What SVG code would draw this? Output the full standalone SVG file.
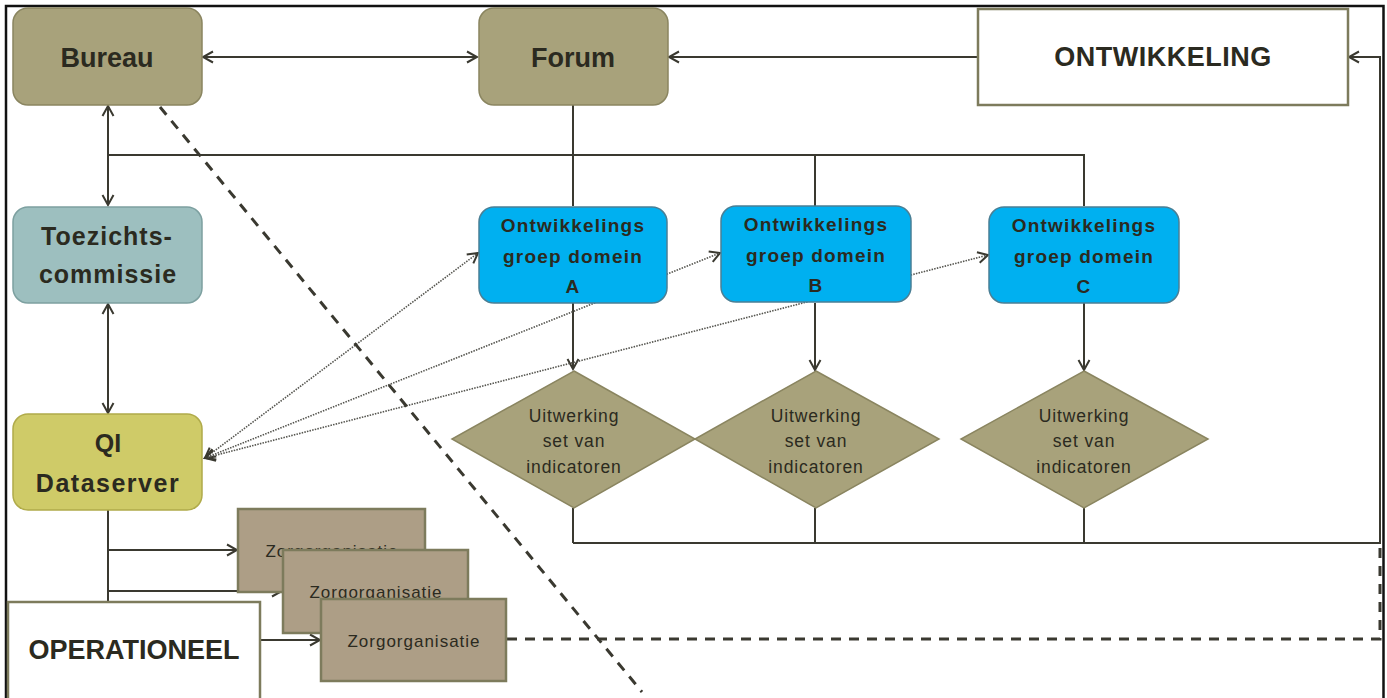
<svg xmlns="http://www.w3.org/2000/svg" width="1387" height="698" viewBox="0 0 1387 698">
<defs>
<style>
.t{font-family:"Liberation Sans",Arial,sans-serif;fill:#2b2a20;text-anchor:middle}
.b{font-weight:bold}
.olive{fill:#a8a27b;stroke:#8a8560;stroke-width:1.5}
.blue{fill:#00b0f0;stroke:#4a7f95;stroke-width:1.5}
.white{fill:#ffffff;stroke:#7d7b5c;stroke-width:2.5}
.zorg{fill:#ad9e86;stroke:#7d7b5c;stroke-width:2.5}
.c{fill:none;stroke:#3a3930;stroke-width:2}
.dot{fill:none;stroke:#55554f;stroke-width:1.6;stroke-dasharray:1.5 1.2}
.dash{fill:none;stroke:#3a3930;stroke-width:3;stroke-dasharray:10 8}
</style>
<marker id="ah" markerUnits="userSpaceOnUse" markerWidth="14" markerHeight="14" viewBox="0 0 14 14" refX="12" refY="7" orient="auto-start-reverse">
<path d="M2,1.5 L12,7 L2,12.5" fill="none" stroke="#3a3930" stroke-width="2"/>
</marker>
</defs>
<rect x="0" y="0" width="1387" height="698" fill="#ffffff"/>
<path d="M6,698 V6 H1383.5 V698" fill="none" stroke="#111" stroke-width="2.5"/>

<g id="connectors">
<line class="c" x1="203" y1="57" x2="477" y2="57" marker-start="url(#ah)" marker-end="url(#ah)"/>
<line class="c" x1="978" y1="57" x2="669" y2="57" marker-end="url(#ah)"/>
<path class="c" d="M573,508 V543 M815,508 V543 M1084,508 V543 M573,543 H1380 V57 H1349" marker-end="url(#ah)"/>
<line class="c" x1="108" y1="106" x2="108" y2="205" marker-start="url(#ah)" marker-end="url(#ah)"/>
<path class="c" d="M108,155 H1084 V206 M815,155 V206 M573,105 V206"/>
<line class="c" x1="573" y1="303" x2="573" y2="369" marker-end="url(#ah)"/>
<line class="c" x1="815" y1="303" x2="815" y2="370" marker-end="url(#ah)"/>
<line class="c" x1="1084" y1="303" x2="1084" y2="370" marker-end="url(#ah)"/>
<line class="c" x1="108" y1="304" x2="108" y2="413" marker-start="url(#ah)" marker-end="url(#ah)"/>
<path class="c" d="M108,510 V602"/>
<line class="c" x1="108" y1="550" x2="237" y2="550" marker-end="url(#ah)"/>
<line class="c" x1="108" y1="591" x2="282" y2="591" marker-end="url(#ah)"/>
<line class="c" x1="261" y1="640" x2="320" y2="640" marker-end="url(#ah)"/>
<line class="dot" x1="205" y1="458" x2="478" y2="253" marker-start="url(#ah)" marker-end="url(#ah)"/>
<line class="dot" x1="205" y1="458" x2="720" y2="253" marker-start="url(#ah)" marker-end="url(#ah)"/>
<line class="dot" x1="205" y1="458" x2="988" y2="255" marker-start="url(#ah)" marker-end="url(#ah)"/>
<path class="dash" d="M507,639 H1380 V545" stroke-width="2.5"/>
</g>

<g id="bureau">
<rect class="olive" x="13" y="8" width="189" height="97" rx="15"/>
<text class="t b" x="107" y="67" font-size="27">Bureau</text>
</g>
<g id="forum">
<rect class="olive" x="479" y="8" width="189" height="97" rx="15"/>
<text class="t b" x="573" y="67" font-size="27">Forum</text>
</g>
<g id="ontwikkeling">
<rect class="white" x="978" y="9" width="370" height="96"/>
<text class="t b" x="1163" y="66" font-size="27" letter-spacing="0.5">ONTWIKKELING</text>
</g>
<g id="toezichtscommissie">
<rect x="13" y="207" width="189" height="96" rx="15" fill="#9dbfbf" stroke="#7da0a0" stroke-width="1.5"/>
<text class="t b" x="107" y="245" font-size="25" letter-spacing="1">Toezichts-</text>
<text class="t b" x="108" y="283" font-size="25" letter-spacing="1">commissie</text>
</g>
<g id="qi-dataserver">
<rect x="13" y="414" width="189" height="96" rx="15" fill="#cfcb68" stroke="#b0ab4a" stroke-width="1.5"/>
<text class="t b" x="108" y="452" font-size="25">QI</text>
<text class="t b" x="108" y="492" font-size="25" letter-spacing="1.5">Dataserver</text>
</g>
<g id="groep-a">
<rect class="blue" x="479" y="207" width="188" height="96" rx="15"/>
<text class="t b" font-size="19" letter-spacing="1.2"><tspan x="573" y="232">Ontwikkelings</tspan><tspan x="573" y="263">groep domein</tspan><tspan x="573" y="293">A</tspan></text>
</g>
<g id="groep-b">
<rect class="blue" x="721" y="206" width="190" height="96" rx="15"/>
<text class="t b" font-size="19" letter-spacing="1.2"><tspan x="816" y="231">Ontwikkelings</tspan><tspan x="816" y="262">groep domein</tspan><tspan x="816" y="292">B</tspan></text>
</g>
<g id="groep-c">
<rect class="blue" x="989" y="207" width="190" height="96" rx="15"/>
<text class="t b" font-size="19" letter-spacing="1.2"><tspan x="1084" y="232">Ontwikkelings</tspan><tspan x="1084" y="263">groep domein</tspan><tspan x="1084" y="293">C</tspan></text>
</g>
<g id="uitwerking-a">
<polygon class="olive" points="574,371 695,439 574,508 452,439" stroke="#7d7b5c"/>
<text class="t" font-size="17.5" letter-spacing="0.9"><tspan x="574" y="422">Uitwerking</tspan><tspan x="574" y="447">set van</tspan><tspan x="574" y="473">indicatoren</tspan></text>
</g>
<g id="uitwerking-b">
<polygon class="olive" points="816,371 939,439 816,508 695,439" stroke="#7d7b5c"/>
<text class="t" font-size="17.5" letter-spacing="0.9"><tspan x="816" y="422">Uitwerking</tspan><tspan x="816" y="447">set van</tspan><tspan x="816" y="473">indicatoren</tspan></text>
</g>
<g id="uitwerking-c">
<polygon class="olive" points="1084,371 1208,439 1084,508 961,439" stroke="#7d7b5c"/>
<text class="t" font-size="17.5" letter-spacing="0.9"><tspan x="1084" y="422">Uitwerking</tspan><tspan x="1084" y="447">set van</tspan><tspan x="1084" y="473">indicatoren</tspan></text>
</g>
<g id="zorg-1">
<rect class="zorg" x="238" y="509" width="187" height="83"/>
<text class="t" x="332" y="557" font-size="17" letter-spacing="1">Zorgorganisatie</text>
</g>
<g id="zorg-2">
<rect class="zorg" x="283" y="550" width="185" height="83"/>
<text class="t" x="376" y="598" font-size="17" letter-spacing="1">Zorgorganisatie</text>
</g>
<g id="zorg-3">
<rect class="zorg" x="321" y="599" width="185" height="82"/>
<text class="t" x="414" y="647" font-size="17" letter-spacing="1">Zorgorganisatie</text>
</g>
<g id="operationeel">
<rect class="white" x="8" y="602" width="252" height="98"/>
<text class="t b" x="134" y="659" font-size="27">OPERATIONEEL</text>
</g>
<line class="dash" x1="160" y1="107" x2="642" y2="692"/>
</svg>
